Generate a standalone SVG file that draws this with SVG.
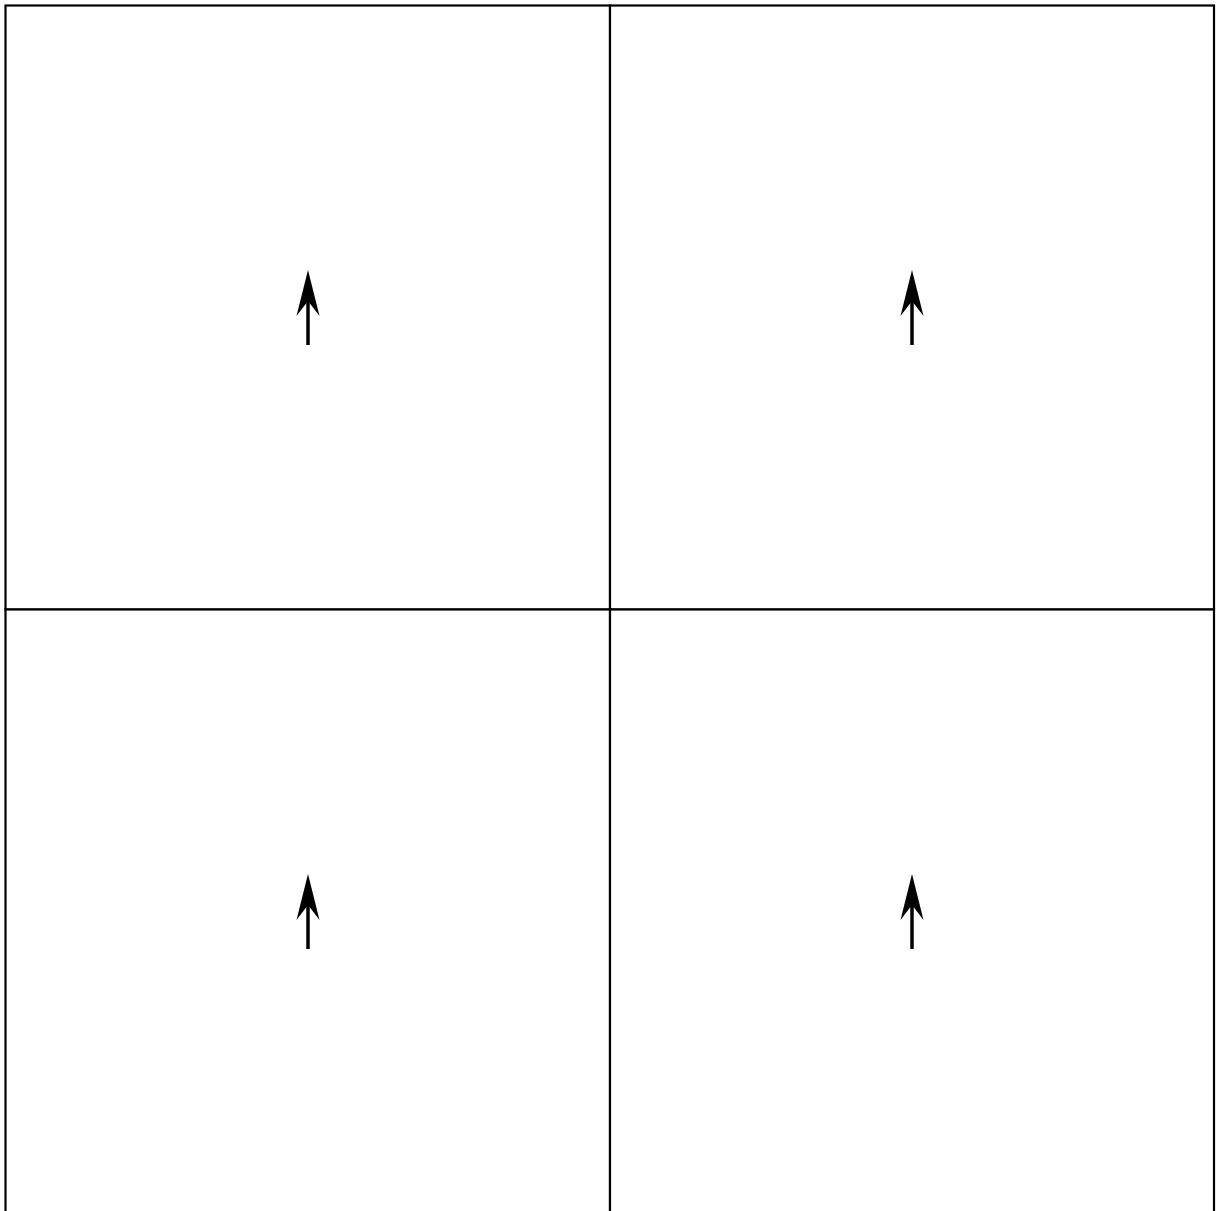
<svg xmlns="http://www.w3.org/2000/svg" width="1216" height="1211" viewBox="0 0 1216 1211">
<defs>
<style>
.cell{fill:#fff;stroke:#000;stroke-width:2.2}
.shaft{stroke:#000;stroke-width:3.5;fill:none}
.head{fill:#000;stroke:none}
</style>
<g id="arrow">
<line class="shaft" x1="0" y1="30" x2="0" y2="75"/>
<path class="head" d="M0,0 L11.5,46 L0,31 L-11.5,46 Z"/>
</g>
</defs>
<rect width="1216" height="1211" fill="#fff"/>
<g id="cell-tl"><rect class="cell" x="5.5" y="5.5" width="604.5" height="604"/><use href="#arrow" x="308" y="270"/></g>
<g id="cell-tr"><rect class="cell" x="610" y="5.5" width="604" height="604"/><use href="#arrow" x="912" y="270"/></g>
<g id="cell-bl"><rect class="cell" x="5.5" y="609.5" width="604.5" height="604"/><use href="#arrow" x="308" y="874"/></g>
<g id="cell-br"><rect class="cell" x="610" y="609.5" width="604" height="604"/><use href="#arrow" x="912" y="874"/></g>
<g id="connectors"></g>
</svg>
